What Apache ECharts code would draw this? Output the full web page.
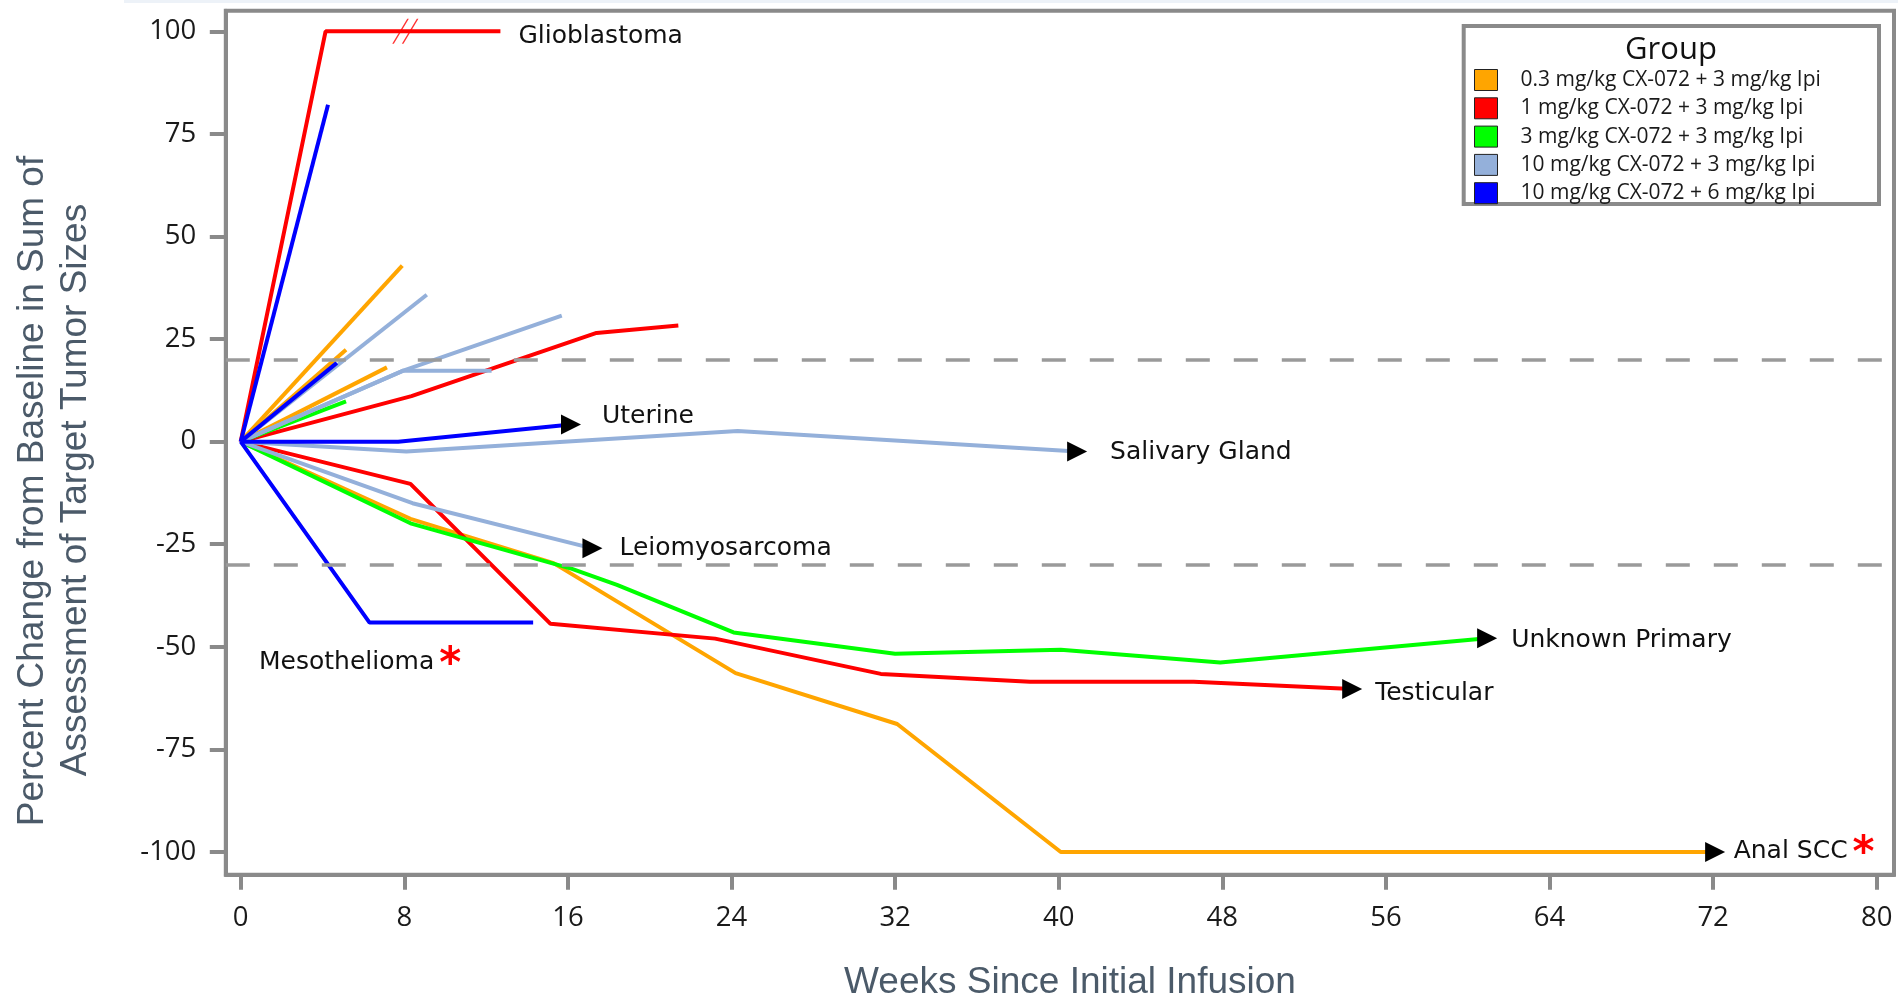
<!DOCTYPE html>
<html><head><meta charset="utf-8">
<script src="https://cdn.jsdelivr.net/npm/echarts@6/dist/echarts.min.js"></script>
<style>html,body{margin:0;padding:0;background:#fff;}#c{width:1898px;height:998px;}</style>
</head><body><div id="c"></div>
<script>
// ---------- data ----------
const groups = ['0.3 mg/kg CX-072 + 3 mg/kg Ipi','1 mg/kg CX-072 + 3 mg/kg Ipi','3 mg/kg CX-072 + 3 mg/kg Ipi','10 mg/kg CX-072 + 3 mg/kg Ipi','10 mg/kg CX-072 + 6 mg/kg Ipi'];
const xTicks = [0,8,16,24,32,40,48,56,64,72,80];
const yTicks = [-100,-75,-50,-25,0,25,50,75,100];
const refLevels = [20, -30];
const breakMarks = [[8.05, 100]];

// [weeks since initial infusion, % change from baseline]
const orangeAnalScc = [[0,0],[8.3,-18.8],[15.3,-29.6],[24.2,-56.4],[32.1,-68.8],[40.1,-100],[72.1,-100]];
const orangeA = [[0,0],[7.9,42.9]];
const orangeB = [[0,0],[5.15,22.4]];
const orangeC = [[0,0],[7.15,18.1]];
const redGlioblastoma = [[0,0],[4.15,100],[12.7,100]];
const redA = [[0,0],[8.35,11.1],[17.4,26.5],[21.4,28.3]];
const redTesticular = [[0,0],[8.3,-10.3],[15.15,-44.4],[23.2,-48.0],[31.3,-56.6],[38.6,-58.5],[46.6,-58.5],[54.35,-60.3]];
const greenUnknownPrimary = [[0,0],[8.3,-19.9],[16.2,-31.0],[18.4,-34.9],[24.1,-46.5],[32.0,-51.7],[40.1,-50.7],[47.9,-53.8],[60.95,-47.9]];
const greenA = [[0,0],[5.15,9.8]];
const lbSalivary = [[0,0],[8.1,-2.4],[24.3,2.6],[40.9,-2.4]];
const lbLeio = [[0,0],[8.4,-15.0],[17.2,-26.0]];
const lbA = [[0,0],[7.95,17.3],[15.7,30.7]];
const lbB = [[0,0],[7.95,17.3],[12.27,17.3]];
const lbC = [[0,0],[9.1,35.8]];
const blueA = [[0,0],[4.27,82.1]];
const blueB = [[0,0],[4.7,19.2]];
const blueUterine = [[0,0],[7.7,0],[16.15,4.2]];
const blueMeso = [[0,0],[6.3,-44.1],[14.3,-44.1]];

const patients = [
  {g:0, pts:orangeAnalScc, name:'Anal SCC', ongoing:true, star:true},
  {g:0, pts:orangeA},{g:0, pts:orangeB},{g:0, pts:orangeC},
  {g:1, pts:redGlioblastoma, name:'Glioblastoma'},
  {g:1, pts:redA},
  {g:1, pts:redTesticular, name:'Testicular', ongoing:true},
  {g:2, pts:greenUnknownPrimary, name:'Unknown Primary', ongoing:true},
  {g:2, pts:greenA},
  {g:3, pts:lbSalivary, name:'Salivary Gland', ongoing:true},
  {g:3, pts:lbLeio, name:'Leiomyosarcoma', ongoing:true},
  {g:3, pts:lbA},{g:3, pts:lbB},{g:3, pts:lbC},
  {g:4, pts:blueA},{g:4, pts:blueB},
  {g:4, pts:blueUterine, name:'Uterine', ongoing:true},
  {g:4, pts:blueMeso, name:'Mesothelioma', star:true, at:1}
];

// ---------- styles ----------
const groupColors = ['#FFA500','#FF0000','#00FF00','#94B0DA','#0000FF'];
const labelPlacement = {
  'Glioblastoma':{distance:18, offset:[0,5.5]},
  'Uterine':{distance:21, offset:[0,-7.5]},
  'Salivary Gland':{distance:23, offset:[0,0.5]},
  'Leiomyosarcoma':{distance:17, offset:[0,0.5]},
  'Unknown Primary':{distance:14, offset:[0,2.5]},
  'Testicular':{distance:13, offset:[0,4]},
  'Anal SCC':{distance:8.5, offset:[0,-0.5]},
  'Mesothelioma':{position:[-110.5,39.5]}
};
const rich = {
  t:{fontFamily:'DejaVu Sans', fontSize:25, color:'#111'},
  s:{fontFamily:'DejaVu Sans', fontSize:42, fontWeight:'bold', color:'#ff0000', padding:[7,0,0,5]}
};
const arrowPath = 'path://M0,0 L20,10 L0,20 Z';
const breakPath = 'path://M0,25 L15,0 L16.6,0 L1.6,25 Z M9.6,25 L24.6,0 L26.2,0 L11.2,25 Z';
const axisGray = '#8a8a8a';

const series = patients.map(p => {
  const labelIdx = p.at != null ? p.at : p.pts.length - 1;
  const data = p.pts.map((pt, j) => {
    const item = {value: pt};
    if (p.ongoing && j === p.pts.length - 1) {
      item.symbol = arrowPath; item.symbolSize = [20, 20]; item.itemStyle = {color:'#000', opacity:1};
    }
    if (p.name && j === labelIdx) {
      const pl = labelPlacement[p.name];
      const base = {show:true, formatter: p.star ? '{t|' + p.name + '}{s|*}' : '{t|' + p.name + '}', rich: rich};
      item.label = pl.position ? Object.assign(base, {position: pl.position, align:'left', verticalAlign:'middle'})
                               : Object.assign(base, {position:'right', distance: pl.distance, offset: pl.offset});
    }
    return item;
  });
  return {
    type:'line', name: groups[p.g], data: data, symbol:'circle', symbolSize:0.01, showSymbol:true,
    lineStyle:{color: groupColors[p.g], width:4}, itemStyle:{color: groupColors[p.g]},
    emphasis:{disabled:true}, silent:true, z:2
  };
});
series[0].markLine = {
  silent:true, symbol:'none', label:{show:false}, emphasis:{disabled:true},
  lineStyle:{color:'#9a9a9a', width:3.5, type:[24,24]},
  data: refLevels.map(v => ({yAxis: v}))
};
series.push({type:'scatter', name:'break', data: breakMarks, symbol: breakPath, symbolSize:[26.2,25],
  itemStyle:{color:'#ff0000'}, z:5, silent:true});

const chart = echarts.init(document.getElementById('c'), null, {renderer:'canvas'});
chart.setOption({
  animation:false,
  backgroundColor:'#ffffff',
  grid:{left:225.8, top:10.7, width:1668.2, height:864, show:true, borderColor:axisGray, borderWidth:4, backgroundColor:'#fff'},
  xAxis:{type:'value', min:-0.729, max:80.846,
    axisLine:{show:true, onZero:false, lineStyle:{color:axisGray, width:4}},
    axisTick:{show:true, customValues:xTicks, length:15, lineStyle:{color:axisGray, width:4}},
    axisLabel:{customValues:xTicks, margin:29, fontFamily:'Open Sans', fontSize:27.5, color:'#1a1a1a'},
    splitLine:{show:false}},
  yAxis:{type:'value', min:-105.53, max:105.02,
    axisLine:{show:true, onZero:false, lineStyle:{color:axisGray, width:4}},
    axisTick:{show:true, customValues:yTicks, length:16, lineStyle:{color:axisGray, width:4}},
    axisLabel:{customValues:yTicks, margin:29.5, fontFamily:'Open Sans', fontSize:27.5, color:'#1a1a1a'},
    splitLine:{show:false}},
  legend:{data:groups, orient:'vertical', left:1474, top:69, itemWidth:23, itemHeight:21, itemGap:6.3,
    icon:'rect', selectedMode:false, padding:0,
    itemStyle:{borderColor:'#222', borderWidth:1},
    textStyle:{fontFamily:'Open Sans', fontSize:21, color:'#1a1a1a', padding:[0,0,0,18], lineHeight:21}},
  graphic:[
    {type:'rect', shape:{x:124, y:0, width:1774, height:3}, style:{fill:'#edf2f8'}, silent:true},
    {type:'rect', shape:{x:1463.7, y:26, width:415.3, height:178}, style:{fill:'#fff', stroke:axisGray, lineWidth:4}, z:3, silent:true},
    {type:'text', x:1671, y:50, z:4, silent:true, style:{text:'Group', fontFamily:'Open Sans', fontSize:31, fill:'#111', align:'center', verticalAlign:'middle'}},
    {type:'text', x:32.7, y:491, rotation:Math.PI/2, silent:true, style:{text:'Percent Change from Baseline in Sum of', fontFamily:'Liberation Sans', fontSize:37, fill:'#4b5a69', align:'center', verticalAlign:'middle'}},
    {type:'text', x:76, y:490, rotation:Math.PI/2, silent:true, style:{text:'Assessment of Target Tumor Sizes', fontFamily:'Liberation Sans', fontSize:37, fill:'#4b5a69', align:'center', verticalAlign:'middle'}},
    {type:'text', x:1070, y:982.5, silent:true, style:{text:'Weeks Since Initial Infusion', fontFamily:'Liberation Sans', fontSize:37, fill:'#4b5a69', align:'center', verticalAlign:'middle'}}
  ],
  series: series
});
</script>
</body></html>
